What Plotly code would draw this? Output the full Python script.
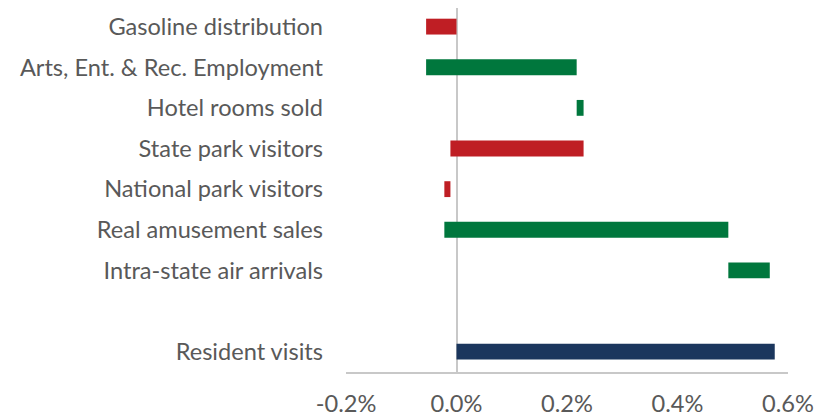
import numpy as np
import plotly.graph_objects as go

# Data (percent contributions)
categories = ["Gasoline distribution", "Arts, Ent. & Rec. Employment", "Hotel rooms sold",
              "State park visitors", "National park visitors", "Real amusement sales",
              "Intra-state air arrivals"]
changes = [-0.055, 0.2725, 0.0125, -0.241, -0.011, 0.514, 0.075]
total_label = "Resident visits"
total_value = 0.576
x_ticks = [-0.2, 0.0, 0.2, 0.4, 0.6]
x_tick_labels = ["-0.2%", "0.0%", "0.2%", "0.4%", "0.6%"]

RED = "#BF1E24"
GREEN = "#00773D"
NAVY = "#1B365D"

changes_arr = np.array(changes)
ends = np.cumsum(changes_arr)
starts = np.concatenate([[0.0], ends[:-1]])
colors = [GREEN if c > 0 else RED for c in changes]

blank = " "
y_order = categories + [blank, total_label]

fig = go.Figure()
fig.add_trace(go.Bar(
    y=categories, x=changes_arr, base=starts, orientation="h",
    marker=dict(color=colors, line=dict(width=0)), width=0.39,
    showlegend=False, hoverinfo="skip"))
fig.add_trace(go.Bar(
    y=[total_label], x=[total_value], base=[0], orientation="h",
    marker=dict(color=NAVY, line=dict(width=0)), width=0.39,
    showlegend=False, hoverinfo="skip"))

fig.update_layout(
    width=823, height=406,
    margin=dict(l=337.5, r=42.5, t=0, b=42.3),
    paper_bgcolor="white", plot_bgcolor="white",
    font=dict(family="Lato", size=23.6, color="#595959"),
    barmode="overlay",
    xaxis=dict(range=[-0.2, 0.6], tickvals=x_ticks, ticktext=x_tick_labels,
               showgrid=False, zeroline=True, zerolinecolor="#C8C8C8", zerolinewidth=1.5,
               showline=True, linecolor="#C8C8C8", linewidth=1.5,
               ticks="", ticklabelstandoff=10, fixedrange=True, automargin=False),
    yaxis=dict(categoryorder="array", categoryarray=y_order,
               range=[len(y_order) - 0.5, -0.458],
               showgrid=False, zeroline=False, showline=False, ticks="",
               ticklabelstandoff=22, fixedrange=True, automargin=False),
)

fig.write_html("out.html")
